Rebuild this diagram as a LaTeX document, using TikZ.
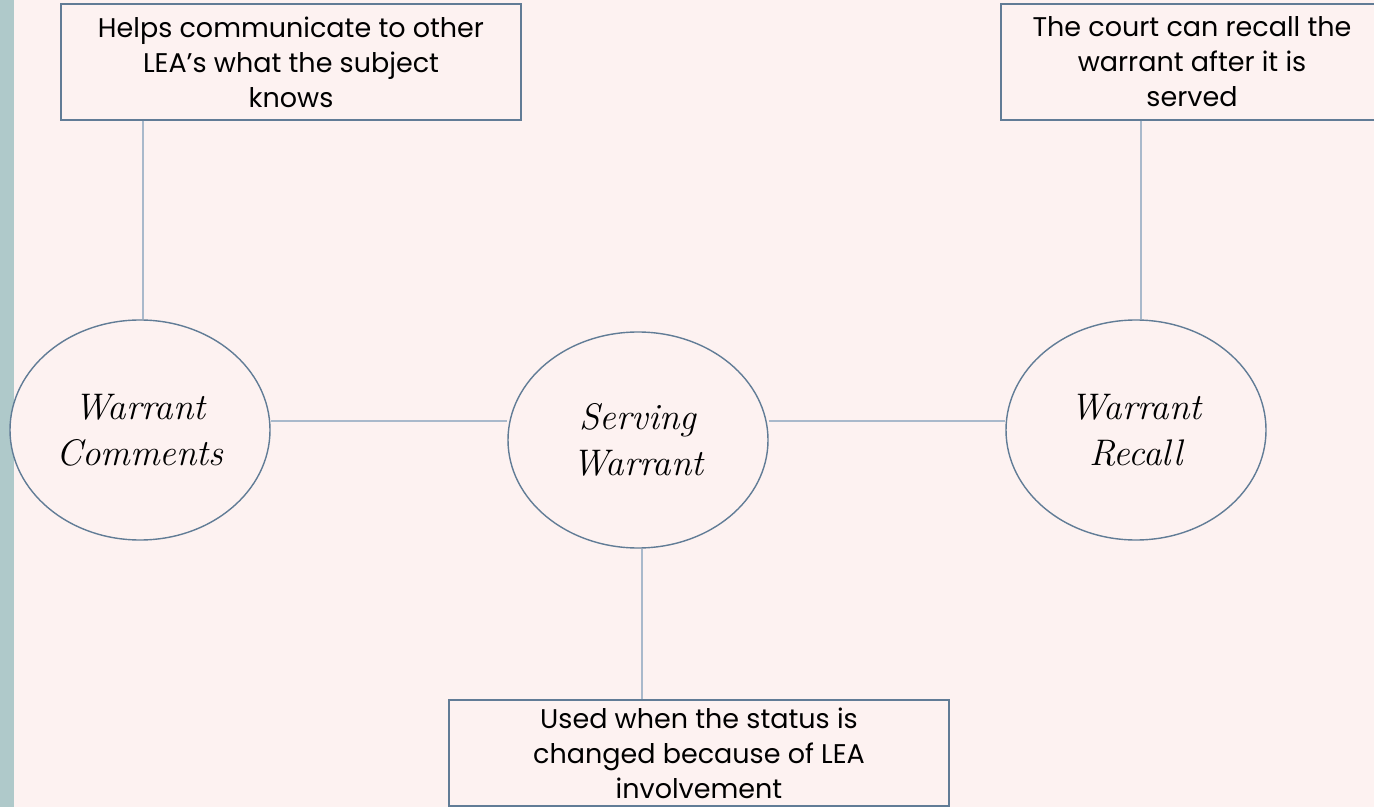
\documentclass[tikz,border=0pt]{standalone}
\usepackage{fontspec}
\setsansfont{Poppins}
\usepackage{tikz}
\usetikzlibrary{shapes.geometric}
\definecolor{paper}{HTML}{FDF2F1}
\definecolor{strip}{HTML}{AFC9CA}
\definecolor{edge}{HTML}{617C96}
\definecolor{wire}{HTML}{A9B9CB}
\tikzset{
  note/.style={draw=edge, fill=paper, line width=0.7pt, align=center, inner sep=2pt,
               font=\sffamily\fontsize{13.5}{17.5}\selectfont},
  topic/.style={ellipse, draw=edge, fill=paper, line width=0.7pt, align=center,
                minimum width=130pt, minimum height=110pt,
                font=\rmfamily\itshape\fontsize{18.5}{23}\selectfont},
  wire/.style={draw=wire, line width=0.6pt}
}

\begin{document}
\begin{tikzpicture}[x=0.5pt,y=-0.5pt]
    \clip (0,0) rectangle (1374,807);
    \useasboundingbox (0,0) rectangle (1374,807);
    \fill[paper] (0,0) rectangle (1374,807);
    \fill[strip] (0,0) rectangle (14,807);
    \coordinate (axis) at (0,421);
    % ellipses
    \node[topic] (comm) at (140,430) {Warrant\\Comments};
    \node[topic,minimum height=108pt] (serv) at (638,440) {Serving\\Warrant};
    \node[topic] (rec) at (1136,430) {Warrant\\Recall};
    % notes
    \node[note,minimum width=230pt,minimum height=58pt] (helps) at (291,62)
      {Helps communicate to other\\LEA's what the subject\\knows};
    \node[note,minimum width=191pt,minimum height=58pt] (recall) at (1192,62)
      {The court can recall the\\warrant after it is\\served};
    \node[note,minimum width=250pt,minimum height=53pt] (used) at (699,753)
      {Used when the status is\\changed because of LEA\\involvement};
    % links
    \draw[wire] (comm.east |- axis) -- (serv.west |- axis);
    \draw[wire] (serv.east |- axis) -- (rec.west |- axis);
    \draw[wire] ([xshift=1.5pt]comm.north |- helps.south) -- ([xshift=1.5pt]comm.north);
    \draw[wire] ([xshift=2.5pt]rec.north |- recall.south) -- ([xshift=2.5pt]rec.north);
    \draw[wire] ([xshift=2pt]serv.south) -- ([xshift=2pt]serv.south |- used.north);
\end{tikzpicture}
\end{document}
